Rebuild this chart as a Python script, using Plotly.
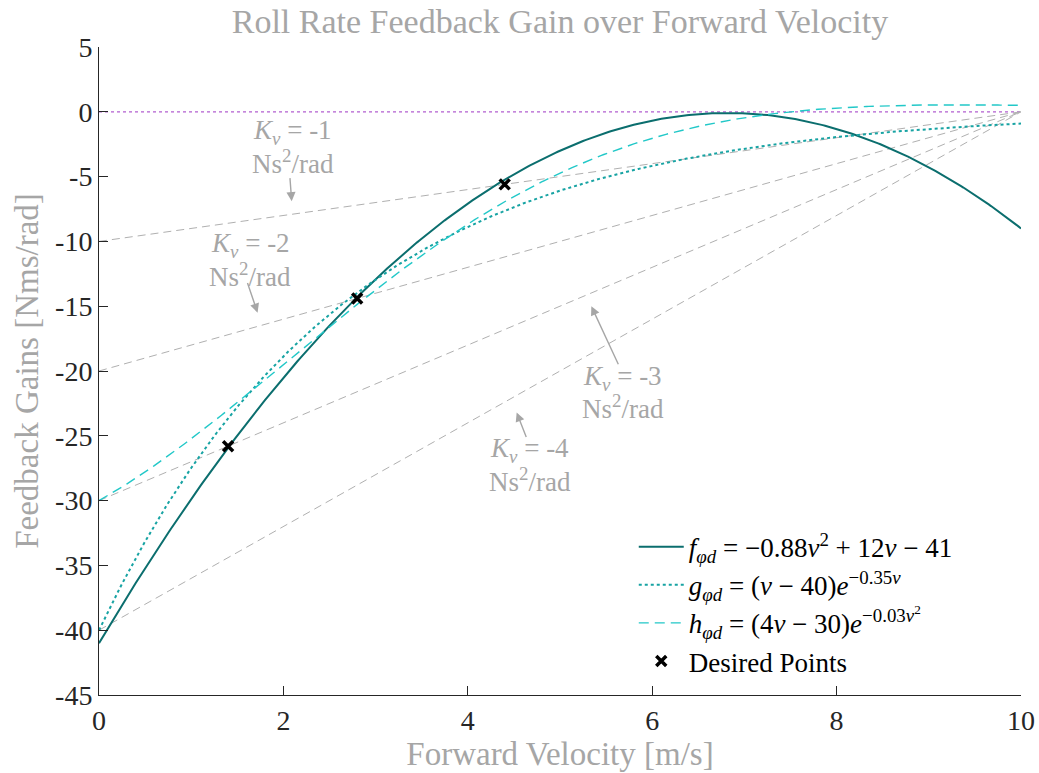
import numpy as np
import plotly.graph_objects as go

# Gain schedule definitions (coefficients as given in the legend)
f_coef = [-0.88, 12.0, -41.0]          # f = a v^2 + b v + c
g_coef = [1.0, -40.0, -0.35]           # g = (p v + q) e^(r v)
h_coef = [4.0, -30.0, -0.03]           # h = (p v + q) e^(r v^2)

# Constant-K_v reference lines: gain = K_v * (v_end - v)
kv_values = [-1, -2, -3, -4]
v_end = 10.0

# Desired design points
desired_v = [1.4, 2.8, 4.4]
desired_gain = [-25.8, -14.4, -5.6]

x_ticks = [0, 2, 4, 6, 8, 10]
y_ticks = [-45, -40, -35, -30, -25, -20, -15, -10, -5, 0, 5]
y_tick_text = ["-45", "-40", "-35", "-30", "-25", "-20", "-15", "-10", "-5", "0", "5"]

v = np.linspace(0, 10, 401)
f_vals = np.polyval(f_coef, v)
g_vals = (g_coef[0] * v + g_coef[1]) * np.exp(g_coef[2] * v)
h_vals = (h_coef[0] * v + h_coef[1]) * np.exp(h_coef[2] * v ** 2)

FONT = "Liberation Serif, DejaVu Serif, serif"
GRAY = "#a6a6a6"
DARK = "#262626"

fig = go.Figure()

# zero reference
fig.add_trace(go.Scatter(x=[0, 10], y=[0, 0], mode="lines",
                         line=dict(color="#b25fd0", width=1.2, dash="dot"),
                         showlegend=False, hoverinfo="skip"))

# constant K_v lines
for kv in kv_values:
    xs = [0, v_end]
    ys = [kv * (v_end - x) for x in xs]
    fig.add_trace(go.Scatter(x=xs, y=ys, mode="lines",
                             line=dict(color="#b0b0b0", width=1, dash="8px,5px"),
                             showlegend=False, hoverinfo="skip"))

fig.add_trace(go.Scatter(
    x=v, y=f_vals, mode="lines", line=dict(color="#0b6e6e", width=2),
    name="<i>f</i><sub><i>φd</i></sub> = −0.88<i>v</i><sup>2</sup> + 12<i>v</i> − 41"))
fig.add_trace(go.Scatter(
    x=v, y=g_vals, mode="lines", line=dict(color="#17a3a3", width=2, dash="dot"),
    name="<i>g</i><sub><i>φd</i></sub> = (<i>v</i> − 40)<i>e</i><sup>−0.35<i>v</i></sup>"))
fig.add_trace(go.Scatter(
    x=v, y=h_vals, mode="lines", line=dict(color="#22c8c8", width=1.4, dash="10px,6px"),
    name="<i>h</i><sub><i>φd</i></sub> = (4<i>v</i> − 30)<i>e</i><sup>−0.03<i>v</i><sup>2</sup></sup>"))
fig.add_trace(go.Scatter(
    x=desired_v, y=desired_gain, mode="markers",
    marker=dict(symbol="x-thin-open", size=10, color="black",
                line=dict(color="black", width=3.5)),
    name="Desired Points"))

# K_v labels: (K_v, text_x, line1_y, line2_y, tail_x, tail_y, head_x, head_y)
labels = [
    (-1, 2.10, -1.56, -3.87, 2.07, -5.0, 2.09, -6.9),
    (-2, 1.64, -10.28, -12.59, 1.605, -13.1, 1.72, -15.5),
    (-3, 5.68, -20.54, -22.78, 5.64, -19.6, 5.34, -15.0),
    (-4, 4.67, -26.1, -28.4, 4.64, -25.2, 4.53, -23.2),
]
for kv, tx, ty1, ty2, ax_, ay_, hx, hy in labels:
    fig.add_annotation(x=tx, y=ty1, xref="x", yref="y", showarrow=False,
                       text=f"<i>K<sub>v</sub></i> = {kv}",
                       font=dict(family=FONT, size=27, color=GRAY))
    fig.add_annotation(x=tx, y=ty2, xref="x", yref="y", showarrow=False,
                       text="Ns<sup>2</sup>/rad",
                       font=dict(family=FONT, size=27, color=GRAY))
    fig.add_annotation(x=hx, y=hy, ax=ax_, ay=ay_, xref="x", yref="y",
                       axref="x", ayref="y", text="", showarrow=True,
                       arrowhead=2, arrowsize=1.3, arrowwidth=1.4,
                       arrowcolor=GRAY, standoff=0, startstandoff=0)

fig.update_layout(
    width=1039, height=773, autosize=False,
    margin=dict(l=99, r=18, t=47, b=78, autoexpand=False),
    paper_bgcolor="white", plot_bgcolor="white",
    font=dict(family=FONT, color=DARK),
    title=dict(text="Roll Rate Feedback Gain over Forward Velocity",
               xref="paper", x=0.5, xanchor="center", y=0.988, yanchor="top",
               font=dict(family=FONT, size=34, color=GRAY)),
    showlegend=True,
    legend=dict(x=0.58, y=0.266, xanchor="left", yanchor="top",
                bgcolor="rgba(0,0,0,0)", borderwidth=0,
                font=dict(family=FONT, size=27, color="black"),
                itemwidth=45, tracegroupgap=0),
)
fig.update_xaxes(range=[0, 10], tickvals=x_ticks, ticks="inside", ticklen=9,
                 tickcolor=DARK, showline=True, linecolor=DARK, linewidth=1,
                 showgrid=False, zeroline=False, automargin=False,
                 tickfont=dict(family=FONT, size=28, color=DARK),
                 title=dict(text="Forward Velocity [m/s]", standoff=4,
                            font=dict(family=FONT, size=33, color=GRAY)))
fig.update_yaxes(range=[-45, 5], tickvals=y_ticks, ticktext=y_tick_text,
                 ticks="inside", ticklen=9,
                 tickcolor=DARK, showline=True, linecolor=DARK, linewidth=1,
                 showgrid=False, zeroline=False, automargin=False,
                 tickfont=dict(family=FONT, size=28, color=DARK),
                 title=dict(text="Feedback Gains [Nms/rad]", standoff=6,
                            font=dict(family=FONT, size=33, color=GRAY)))

fig.write_html("out.html")
